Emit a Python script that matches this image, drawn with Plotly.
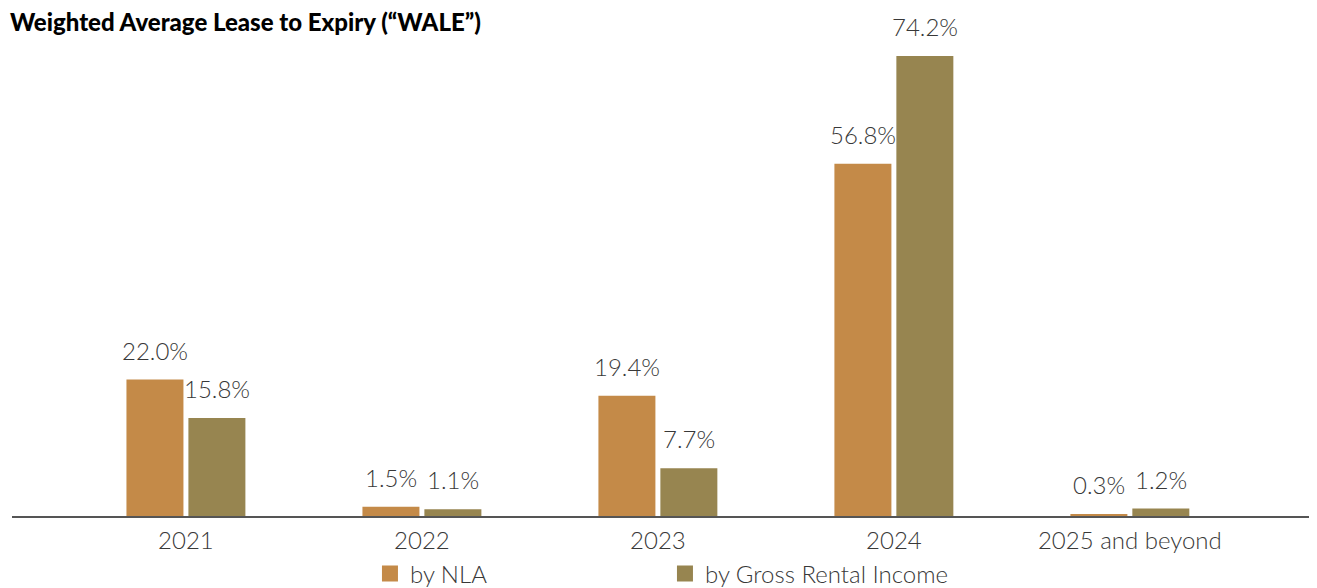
import plotly.graph_objects as go

categories = ["2021", "2022", "2023", "2024", "2025 and beyond"]
by_nla = [22.0, 1.5, 19.4, 56.8, 0.3]
by_gri = [15.8, 1.1, 7.7, 74.2, 1.2]
series_names = ["by NLA", "by Gross Rental Income"]
colors = ["#C48A48", "#978550"]
title_text = "Weighted Average Lease to Expiry (\u201cWALE\u201d)"

FONT = "Lato"
TXT = "#383838"
# page has an 8px body margin
W, H = 1309, 580
L, R, T, B = 4, 0, 12, 72
PH = H - T - B
PW = W - L - R

fig = go.Figure()
for name, vals, col in zip(series_names, [by_nla, by_gri], colors):
    fig.add_trace(go.Bar(
        x=categories, y=vals, name=name, marker=dict(color=col, line=dict(width=0)),
        showlegend=False, hoverinfo="skip",
    ))
# legend proxies
for name, col in zip(series_names, colors):
    fig.add_trace(go.Scatter(
        x=[None], y=[None], mode="markers", name=name,
        marker=dict(symbol="square", size=16, color=col),
    ))

# value labels via annotations (x by category index)
offsets = [-31, 31]
for vals, dx in zip([by_nla, by_gri], offsets):
    for i, v in enumerate(vals):
        fig.add_annotation(
            x=i, y=v, xref="x", yref="y", text=f"{v:.1f}%", showarrow=False,
            xshift=dx, yanchor="bottom", yshift=13,
            font=dict(family=FONT, size=24, color=TXT, weight=300),
        )

# title
fig.add_annotation(
    text=title_text, xref="paper", yref="paper",
    x=-L / PW, y=1 + (T + 3) / PH, xanchor="left", yanchor="top",
    showarrow=False,
    font=dict(family=FONT, size=24, color="#000000", weight=900),
)

fig.update_layout(
    width=W, height=H,
    margin=dict(l=L, r=R, t=T, b=B, pad=0, autoexpand=False),
    paper_bgcolor="white", plot_bgcolor="white",
    barmode="group", bargap=0.475, bargroupgap=0.08,
    xaxis=dict(
        type="category", range=[-0.737, 4.793], showgrid=False, zeroline=False,
        showline=True, linecolor="#555555", linewidth=2, ticks="",
        ticklabelstandoff=2, automargin=False,
        tickfont=dict(family=FONT, size=24, color=TXT, weight=300),
    ),
    yaxis=dict(range=[0, 80], visible=False, showgrid=False, zeroline=False,
               automargin=False),
    legend=dict(
        orientation="h", x=0.2743, xanchor="left",
        y=-58 / PH, yanchor="middle",
        entrywidth=250, entrywidthmode="pixels",
        font=dict(family=FONT, size=24, color=TXT, weight=300),
        bgcolor="rgba(0,0,0,0)",
    ),
)

fig.write_html("out.html")
